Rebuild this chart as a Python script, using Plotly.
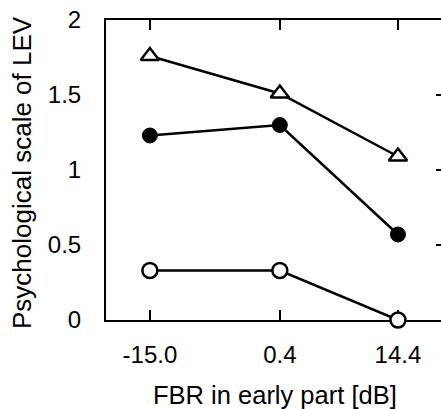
import plotly.graph_objects as go

fbr = [-15.0, 0.4, 14.4]
fbr_labels = ["-15.0", "0.4", "14.4"]
tri_open = [1.76, 1.51, 1.09]
circ_filled = [1.23, 1.30, 0.57]
circ_open = [0.33, 0.33, 0.0]
y_ticks = [0, 0.5, 1, 1.5, 2]
y_labels = ["0", "0.5", "1", "1.5", "2"]

FONT = "Liberation Sans, Arial, Helvetica, sans-serif"

fig = go.Figure()
line = dict(color="black", width=2.5)
fig.add_trace(go.Scatter(x=fbr, y=tri_open, mode="lines+markers", line=line,
                         marker=dict(symbol="triangle-up", size=16, color="white",
                                     line=dict(width=2.5, color="black")),
                         cliponaxis=False, showlegend=False))
fig.add_trace(go.Scatter(x=fbr, y=circ_filled, mode="lines+markers", line=line,
                         marker=dict(symbol="circle", size=15, color="black",
                                     line=dict(width=1, color="black")),
                         cliponaxis=False, showlegend=False))
fig.add_trace(go.Scatter(x=fbr, y=circ_open, mode="lines+markers", line=line,
                         marker=dict(symbol="circle", size=15, color="white",
                                     line=dict(width=2.5, color="black")),
                         cliponaxis=False, showlegend=False))
# invisible trace to activate right-side tick axis
fig.add_trace(go.Scatter(x=[fbr[0]], y=[y_ticks[0]], yaxis="y2", mode="markers",
                         marker=dict(opacity=0), showlegend=False, hoverinfo="skip"))

fig.update_layout(
    width=441, height=409,
    margin=dict(l=106, r=0, t=20, b=89),
    paper_bgcolor="white", plot_bgcolor="white",
    font=dict(family=FONT, size=24, color="black"),
    xaxis=dict(range=[-20.2, 19.5], tickvals=fbr, ticktext=fbr_labels,
               ticks="inside", ticklen=10, tickwidth=2, tickcolor="black",
               showline=True, linewidth=2, linecolor="black", mirror="ticks",
               showgrid=False, zeroline=False, ticklabelstandoff=12,
               layer="below traces"),
    yaxis=dict(range=[0, 2], tickvals=y_ticks, ticktext=y_labels,
               ticks="", showline=True, linewidth=2, linecolor="black",
               showgrid=False, zeroline=False, ticklabelstandoff=18,
               layer="below traces"),
    yaxis2=dict(range=[0, 2], overlaying="y", side="right", tickvals=y_ticks,
                ticks="inside", ticklen=5, tickwidth=2, tickcolor="black",
                showticklabels=False, showline=False, showgrid=False, zeroline=False),
    annotations=[
        dict(text="FBR in early part [dB]", xref="paper", yref="paper",
             x=0.504, y=-0.25, xanchor="center", yanchor="middle", showarrow=False,
             font=dict(size=25.5)),
        dict(text="Psychological scale of LEV", xref="paper", yref="paper",
             x=-0.251, y=0.493, xanchor="center", yanchor="middle", showarrow=False,
             textangle=-90, font=dict(size=26)),
    ],
)

fig.write_html("out.html")
